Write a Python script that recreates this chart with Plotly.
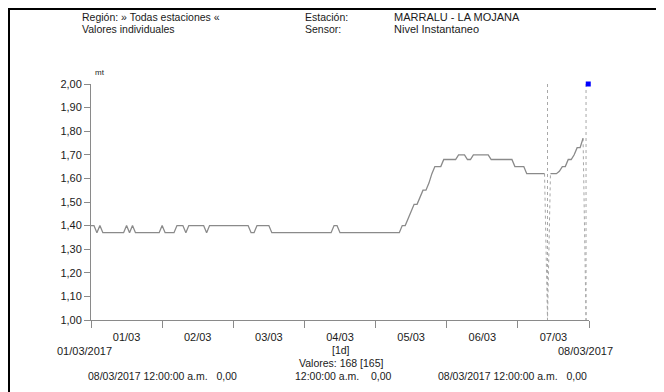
import plotly.graph_objects as go
import pandas as pd

# ---------------- data ----------------
START = "2017-03-01 00:00"
END = "2017-03-08 00:00"
Y_MIN, Y_MAX = 1.00, 2.00

# hourly water level (mt), 168 values, None = invalid value
nivel = [
    # 01/03
    1.40, 1.40, 1.37, 1.40, 1.37, 1.37, 1.37, 1.37, 1.37, 1.37, 1.37, 1.37,
    1.40, 1.37, 1.40, 1.37, 1.37, 1.37, 1.37, 1.37, 1.37, 1.37, 1.37, 1.37,
    # 02/03
    1.40, 1.37, 1.37, 1.37, 1.37, 1.40, 1.40, 1.40, 1.37, 1.40, 1.40, 1.40,
    1.40, 1.40, 1.40, 1.37, 1.40, 1.40, 1.40, 1.40, 1.40, 1.40, 1.40, 1.40,
    # 03/03
    1.40, 1.40, 1.40, 1.40, 1.40, 1.40, 1.37, 1.37, 1.40, 1.40, 1.40, 1.40,
    1.40, 1.37, 1.37, 1.37, 1.37, 1.37, 1.37, 1.37, 1.37, 1.37, 1.37, 1.37,
    # 04/03
    1.37, 1.37, 1.37, 1.37, 1.37, 1.37, 1.37, 1.37, 1.37, 1.37, 1.40, 1.40,
    1.37, 1.37, 1.37, 1.37, 1.37, 1.37, 1.37, 1.37, 1.37, 1.37, 1.37, 1.37,
    # 05/03
    1.37, 1.37, 1.37, 1.37, 1.37, 1.37, 1.37, 1.37, 1.37, 1.40, 1.40, 1.43,
    1.46, 1.49, 1.49, 1.52, 1.55, 1.55, 1.58, 1.62, 1.65, 1.65, 1.65, 1.68,
    # 06/03
    1.68, 1.68, 1.68, 1.68, 1.70, 1.70, 1.70, 1.68, 1.68, 1.70, 1.70, 1.70,
    1.70, 1.70, 1.70, 1.68, 1.68, 1.68, 1.68, 1.68, 1.68, 1.68, 1.68, 1.65,
    # 07/03
    1.65, 1.65, 1.65, 1.62, 1.62, 1.62, 1.62, 1.62, 1.62, 1.62, None, 1.62,
    1.62, 1.62, 1.63, 1.65, 1.65, 1.68, 1.68, 1.70, 1.73, 1.73, 1.77, None,
]
times = list(pd.date_range(START, periods=len(nivel), freq="h"))

cursor_time = ["2017-03-07 23:45"]
cursor_value = [2.00]

header_left = ["Región: » Todas estaciones «", "Valores individuales"]
header_mid = ["Estación:", "Sensor:"]
header_right = ["MARRALU - LA MOJANA", "Nivel Instantaneo"]
unidad = "mt"
intervalo = "[1d]"
n_valores = "Valores: 168 [165]"
footer = ["08/03/2017 12:00:00 a.m.\u00a0\u00a0\u00a00,00",
          "12:00:00 a.m.\u00a0\u00a0\u00a0\u00a00,00",
          "08/03/2017 12:00:00 a.m.\u00a0\u00a0\u00a00,00"]
range_labels = ["01/03/2017", "08/03/2017"]

# dotted connections to invalid values
dx, dy = [], []
for i, v in enumerate(nivel):
    if v is None:
        if i > 0 and nivel[i - 1] is not None:
            dx += [times[i - 1], times[i]]
            dy += [nivel[i - 1], Y_MIN]
        else:
            dx += [times[i]]
            dy += [Y_MIN]
        if i + 1 < len(nivel) and nivel[i + 1] is not None:
            dx += [times[i + 1]]
            dy += [nivel[i + 1]]
        dx += [None, times[i], times[i], None]
        dy += [None, Y_MAX, Y_MIN, None]

FONT = "Liberation Sans, Arial, sans-serif"
GREY = "#8a8a8a"
TXT = "#1a1a1a"

fig = go.Figure()
fig.add_trace(go.Scatter(x=dx, y=dy, mode="lines",
                         line=dict(color="#a8a8a8", width=1, dash="dot"),
                         hoverinfo="skip", showlegend=False))
fig.add_trace(go.Scatter(x=times, y=nivel, mode="lines", connectgaps=False,
                         line=dict(color=GREY, width=1.3),
                         showlegend=False))
fig.add_trace(go.Scatter(x=cursor_time, y=cursor_value, mode="markers",
                         marker=dict(symbol="square", size=5, color="#0000ff"),
                         cliponaxis=False, showlegend=False))

# page has an 8px body margin: work in page pixels, convert to figure pixels
OFF = 8
W, H = 664 - OFF, 392 - OFF
PL, PR, PT, PB = 91, 589, 84, 320          # plot area in page pixels
L, R, T, B = PL - OFF, W - (PR - OFF), PT - OFF, H - (PB - OFF)
pw, ph = W - L - R, H - T - B


def px(x):
    return (x - OFF - L) / pw


def py(y):
    return (H - B - (y - OFF)) / ph


def note(x, y, text, size=11, anchor="left"):
    return dict(x=px(x), y=py(y), xref="paper", yref="paper", text=text,
                xanchor=anchor, yanchor="middle", showarrow=False,
                font=dict(family=FONT, size=size, color=TXT))


ann = []
for i, t in enumerate(header_left):
    ann.append(note(80, 17 + 12 * i, t, 10.5))
for i, t in enumerate(header_mid):
    ann.append(note(303, 17 + 12 * i, t, 10.5))
for i, t in enumerate(header_right):
    ann.append(note(392, 17 + 12 * i, t, 11))
ann.append(note(93, 73, unidad, 8))
ann.append(note(84, 351, range_labels[0], 11, "center"))
ann.append(note(585, 351, range_labels[1], 11, "center"))
ann.append(note(341, 350, intervalo, 10.5, "center"))
ann.append(note(341, 363, n_valores, 10.5, "center"))
for t, xc in zip(footer, [162, 343, 512]):
    ann.append(note(xc, 376, t, 10.5, "center"))

fig.update_layout(
    width=W, height=H,
    margin=dict(l=L, r=R, t=T, b=B, pad=0),
    paper_bgcolor="white", plot_bgcolor="white",
    separators=",.",
    font=dict(family=FONT, size=11, color=TXT),
    annotations=ann,
    shapes=[dict(type="rect", xref="paper", yref="paper",
                 x0=px(9), x1=px(661), y0=py(420), y1=py(9),
                 line=dict(color="black", width=2))],
    xaxis=dict(type="date", range=[START, END], tick0=START, dtick=86400000,
               tickformat="%d/%m", ticklabelmode="period",
               showgrid=False, zeroline=False, showline=True, linecolor=GREY,
               linewidth=1, ticks="outside", ticklen=7, tickcolor=GREY,
               tickfont=dict(family=FONT, size=11, color=TXT)),
    yaxis=dict(range=[Y_MIN, Y_MAX], dtick=0.1, tick0=1.0, tickformat=".2f",
               showgrid=False, zeroline=False, showline=True, linecolor=GREY,
               linewidth=1, ticks="outside", ticklen=6, tickcolor=GREY,
               tickfont=dict(family=FONT, size=11, color=TXT)),
)

fig.write_html("out.html")
